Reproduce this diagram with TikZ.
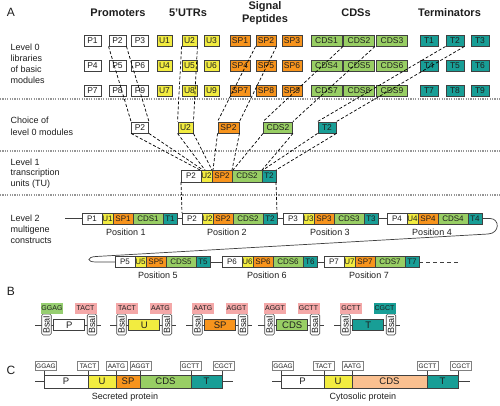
\documentclass[tikz,border=0pt]{standalone}
\usepackage{fontspec}
\setmainfont{Liberation Sans}
\definecolor{bd}{RGB}{64,64,64}
\definecolor{cU}{RGB}{242,236,64}
\definecolor{cSP}{RGB}{247,148,29}
\definecolor{cCDS}{RGB}{152,206,100}
\definecolor{cT}{RGB}{24,158,150}
\definecolor{cPink}{RGB}{244,168,168}
\definecolor{cGtag}{RGB}{150,206,112}
\definecolor{cPeach}{RGB}{250,192,144}
\definecolor{sepc}{RGB}{150,150,150}
\definecolor{txt}{RGB}{30,30,30}
\newcommand\mychain[5]{%
 \node[chb, fill=white, minimum width=20pt, minimum height=#4] (#1P) at (#2,#3) {P#5};
 \node[chb, fill=cU, minimum width=11pt, minimum height=#4] (#1U) at (#1P.east) {U#5};
 \node[chb, fill=cSP, minimum width=20pt, minimum height=#4] (#1SP) at (#1U.east) {SP#5};
 \node[chb, fill=cCDS, minimum width=30pt, minimum height=#4] (#1C) at (#1SP.east) {CDS#5};
 \node[chb, fill=cT, minimum width=14pt, minimum height=#4] (#1T) at (#1C.east) {T#5};
}
\newcommand\bmodule[8]{%
 \coordinate (#1a) at (#2-7,325);
 \coordinate (#1b) at (#2+59,325);
 \draw[thinln] (#1a) -- (#1b);
 \node[bsa] (#1s1) at (#2+4.5,324.5) {BsaI};
 \node[bsa] (#1s2) at (#2+50,324.5) {BsaI};
 \node[core, fill=#4] (#1m) at (#2+27.2,325) {#3};
 \node[tagb, fill=#6] (#1t1) at (#2+10,308.5) {#5};
 \node[tagb, fill=#8] (#1t2) at (#2+43.5,308.5) {#7};
}
\tikzset{
 lz/.style={draw=bd, line width=0.9pt, minimum height=11pt, inner sep=0pt, text=txt, font=\fontsize{8.5}{8.5}\selectfont},
 lzP/.style={lz, fill=white, minimum width=17pt},
 lzU/.style={lz, fill=cU, minimum width=15pt},
 lzSP/.style={lz, fill=cSP, minimum width=20pt},
 lzC/.style={lz, fill=cCDS, minimum width=31pt},
 lzT/.style={lz, fill=cT, minimum width=18pt},
 chb/.style={draw=bd, line width=0.7pt, inner sep=0pt, outer sep=0pt, anchor=west, text=txt, font=\fontsize{8}{8}\selectfont},
 cbar/.style={draw=bd, line width=0.7pt, inner sep=0pt, outer sep=0pt, anchor=west, minimum height=13pt, text=txt, font=\fontsize{9.5}{9.5}\selectfont},
 dsh/.style={draw=black, line width=0.7pt, dash pattern=on 3pt off 2pt},
 sepline/.style={draw=sepc, line width=1.3pt, dash pattern=on 1.2pt off 1.2pt},
 thinln/.style={draw=bd, line width=0.7pt},
 lab/.style={align=left, anchor=west, text=txt, font=\fontsize{9}{11}\selectfont},
 head/.style={text=txt, font=\fontsize{11}{12}\selectfont\bfseries},
 pan/.style={text=txt, font=\fontsize{12}{12}\selectfont},
 poslab/.style={text=txt, font=\fontsize{9}{9}\selectfont},
 bsa/.style={draw=bd, line width=0.6pt, fill=white, rounded corners=1.5pt, rotate=90, minimum width=21pt, minimum height=9.5pt, inner sep=0pt, text=txt, font=\fontsize{9}{9}\selectfont},
 core/.style={draw=bd, line width=0.7pt, minimum width=31pt, minimum height=11pt, inner sep=0pt, text=txt, font=\fontsize{9.5}{9.5}\selectfont},
 tagb/.style={minimum width=22pt, minimum height=10.5pt, inner sep=0pt, text=txt, font=\fontsize{7}{7}\selectfont},
 ctag/.style={draw=gray, line width=0.6pt, fill=white, minimum width=21pt, minimum height=8.5pt, inner sep=0pt, text=txt, font=\fontsize{6.5}{6.5}\selectfont},
}
\begin{document}
\begin{tikzpicture}[x=1pt,y=-1pt]
\useasboundingbox (0,0) rectangle (500,405);
% panel A headers
\node[pan] (hA) at (11,12.5) {A};
\node[head] (hP) at (118,12.5) {Promoters};
\node[head] (hU) at (188,12.5) {5’UTRs};
\node[head, align=center, font=\fontsize{11}{12.5}\selectfont\bfseries] (hS) at (265,13) {Signal\\Peptides};
\node[head] (hC) at (356,12.5) {CDSs};
\node[head] (hT) at (449.5,12.5) {Terminators};
% left labels
\node[lab] (l0) at (7,63.5) {Level 0\\libraries\\of basic\\modules};
\node[lab, font=\fontsize{9}{12}\selectfont] (lc) at (7,126) {Choice of\\level 0 modules};
\node[lab, font=\fontsize{9}{10.5}\selectfont] (l1) at (7,173.5) {Level 1\\transcription\\units (TU)};
\node[lab, font=\fontsize{9}{11}\selectfont] (l2) at (7,229) {Level 2\\multigene\\constructs};
% separators
\coordinate (s1a) at (0,99); \coordinate (s1b) at (500,99);
\coordinate (s2a) at (0,151); \coordinate (s2b) at (500,151);
\coordinate (s3a) at (0,195); \coordinate (s3b) at (500,195);
\draw[sepline] (s1a) -- (s1b);
\draw[sepline] (s2a) -- (s2b);
\draw[sepline] (s3a) -- (s3b);
% level 0 grid
\foreach \r/\y in {0/40.5,1/65.5,2/90.5}{
 \foreach \c/\px/\ux/\sx/\cx/\tx in {1/92.5/164.5/240/326.5/429, 2/117.5/189.5/266/359/455, 3/140/211.5/292/392/480}{
  \pgfmathtruncatemacro\n{3*\r+\c}
  \node[lzP] (P\n) at (\px,\y) {P\n};
  \node[lzU] (U\n) at (\ux,\y) {U\n};
  \node[lzSP] (SP\n) at (\sx,\y) {SP\n};
  \node[lzC] (CDS\n) at (\cx,\y) {CDS\n};
  \node[lzT] (T\n) at (\tx,\y) {T\n};
 }
}
% choice
\node[lzP] (cP) at (140,127.5) {P2};
\node[lzU] (cU) at (185.5,127.5) {U2};
\node[lzSP, minimum width=21pt] (cSP) at (228.5,127.5) {SP2};
\node[lzC, minimum width=29pt] (cC) at (278,127.5) {CDS2};
\node[lzT] (cT) at (327,127.5) {T2};
\foreach \a/\b in {P2/cP,U2/cU,SP2/cSP,CDS2/cC,T2/cT}{
 \draw[dsh] (\a.south west) -- (\b.north west);
 \draw[dsh] (\a.south east) -- (\b.north east);
}
% level 1
\mychain{L1}{181}{176}{12pt}{2}
\draw[dsh] (cP.south west) -- ([xshift=-1pt]L1U.north west);
\draw[dsh] (cP.south east) -- ([xshift=2pt]L1U.north west);
\draw[dsh] (cU.south west) -- ([xshift=4pt]L1U.north west);
\draw[dsh] (cU.south east) -- (L1U.north east);
\draw[dsh] (cSP.south west) -- ([xshift=1pt]L1SP.north west);
\draw[dsh] (cSP.south east) -- (L1SP.north east);
\draw[dsh] (cC.south west) -- ([xshift=1pt]L1C.north west);
\draw[dsh] (cC.south east) -- (L1C.north east);
\draw[dsh] (cT.south west) -- ([xshift=1pt]L1T.north west);
\draw[dsh] (cT.south east) -- (L1T.north east);
% level 2
\coordinate (lstart) at (65,218.5);
\coordinate (lend) at (459,262);
\draw[thinln] (lstart) -- (82,218.5);
\mychain{R1}{82}{218.5}{11pt}{1}
\mychain{R2}{182}{218.5}{11pt}{2}
\mychain{R3}{283}{218.5}{11pt}{3}
\mychain{R4}{387}{218.5}{11pt}{4}
\mychain{R5}{115}{262}{11pt}{5}
\mychain{R6}{222}{262}{11pt}{6}
\mychain{R7}{324}{262}{11pt}{7}
\draw[thinln] (R1T.east) -- (R2P.west);
\draw[thinln] (R2T.east) -- (R3P.west);
\draw[thinln] (R3T.east) -- (R4P.west);
\draw[thinln] (R4T.east) -- (490,218.5) .. controls (500,218.5) and (500,233.5) .. (488,234) -- (96,256.5) .. controls (86.5,257) and (86.5,262) .. (96,262) -- (R5P.west);
\draw[thinln] (R5T.east) -- (R6P.west);
\draw[thinln] (R6T.east) -- (R7P.west);
\draw[thinln, dash pattern=on 4pt off 3pt] (R7T.east) -- (lend);
\draw[dsh] (L1P.south west) -- (R2P.north west);
\draw[dsh] (L1T.south east) -- (R2T.north east);
\node[poslab] (pos1) at (126,232) {Position 1};
\node[poslab] (pos2) at (227,232) {Position 2};
\node[poslab] (pos3) at (330,232) {Position 3};
\node[poslab] (pos4) at (432,232) {Position 4};
\node[poslab] (pos5) at (158,275.5) {Position 5};
\node[poslab] (pos6) at (267,275.5) {Position 6};
\node[poslab] (pos7) at (369,275.5) {Position 7};
% panel B
\node[pan] (hB) at (11,291) {B};
\bmodule{mP}{42}{P}{white}{GGAG}{cGtag}{TACT}{cPink}
\bmodule{mU}{117}{U}{cU}{TACT}{cPink}{AATG}{cPink}
\bmodule{mS}{193}{SP}{cSP}{AATG}{cPink}{AGGT}{cPink}
\bmodule{mC}{265}{CDS}{cCDS}{AGGT}{cPink}{GCTT}{cPink}
\bmodule{mT}{341}{T}{cT}{GCTT}{cPink}{CGCT}{cT}
% panel C
\node[pan] (hC2) at (11,370) {C};
\coordinate (sa) at (35,381.5); \coordinate (sb) at (233,381.5);
\draw[thinln] (sa) -- (sb);
\node[cbar, fill=white, minimum width=44pt] (sP) at (44,381.5) {P};
\node[cbar, fill=cU, minimum width=28pt] (sU) at (sP.east) {U};
\node[cbar, fill=cSP, minimum width=24pt] (sSP) at (sU.east) {SP};
\node[cbar, fill=cCDS, minimum width=51pt] (sC) at (sSP.east) {CDS};
\node[cbar, fill=cT, minimum width=31pt] (sT) at (sC.east) {T};
\node[ctag] (g1) at (46,366) {GGAG};
\node[ctag] (g2) at (88,366) {TACT};
\node[ctag] (g3) at (116.5,366) {AATG};
\node[ctag] (g4) at (140.5,366) {AGGT};
\node[ctag] (g5) at (190.5,366) {GCTT};
\node[ctag] (g6) at (223.5,366) {CGCT};
\draw[thinln, line width=0.5pt] (g1.south -| sP.north west) -- (sP.north west);
\draw[thinln, line width=0.5pt] (g2.south -| sU.north west) -- (sU.north west);
\draw[thinln, line width=0.5pt] (g3.south -| sSP.north west) -- (sSP.north west);
\draw[thinln, line width=0.5pt] (g4.south -| sC.north west) -- (sC.north west);
\draw[thinln, line width=0.5pt] (g5.south -| sT.north west) -- (sT.north west);
\draw[thinln, line width=0.5pt] (g6.south -| sT.north east) -- (sT.north east);
\node[poslab] (secr) at (125,397) {Secreted protein};
\coordinate (ca) at (272,381.5); \coordinate (cb) at (470,381.5);
\draw[thinln] (ca) -- (cb);
\node[cbar, fill=white, minimum width=43pt] (yP) at (281,381.5) {P};
\node[cbar, fill=cU, minimum width=28pt] (yU) at (yP.east) {U};
\node[cbar, fill=cPeach, minimum width=75pt] (yC) at (yU.east) {CDS};
\node[cbar, fill=cT, minimum width=31pt] (yT) at (yC.east) {T};
\node[ctag] (h1) at (283,366) {GGAG};
\node[ctag] (h2) at (323.5,366) {TACT};
\node[ctag] (h3) at (352.5,366) {AATG};
\node[ctag] (h4) at (427.5,366) {GCTT};
\node[ctag] (h5) at (461,366) {CGCT};
\draw[thinln, line width=0.5pt] (h1.south -| yP.north west) -- (yP.north west);
\draw[thinln, line width=0.5pt] (h2.south -| yU.north west) -- (yU.north west);
\draw[thinln, line width=0.5pt] (h3.south -| yC.north west) -- (yC.north west);
\draw[thinln, line width=0.5pt] (h4.south -| yT.north west) -- (yT.north west);
\draw[thinln, line width=0.5pt] (h5.south -| yT.north east) -- (yT.north east);
\node[poslab] (cyto) at (363,397) {Cytosolic protein};
\end{tikzpicture}
\end{document}
